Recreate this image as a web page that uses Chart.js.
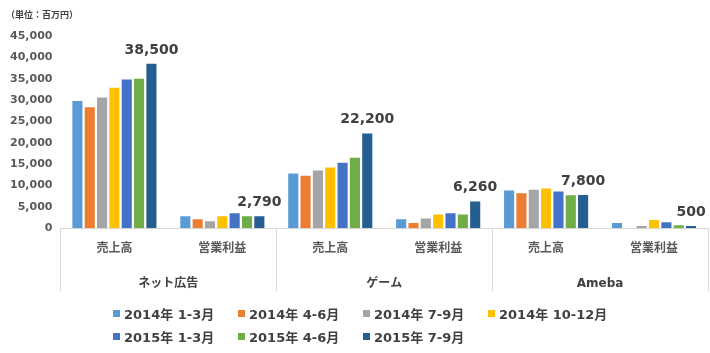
<!DOCTYPE html>
<html>
<head>
<meta charset="utf-8">
<script src="https://cdn.jsdelivr.net/npm/chart.js@4/dist/chart.umd.min.js"></script>
<style>
  html, body { margin: 0; padding: 0; background: #fff; }
  #wrap { position: relative; width: 710px; height: 353px; }
  #unit { position: absolute; left: 6px; top: 8px; font-family: "DejaVu Sans", "Noto Sans CJK JP", sans-serif;
    font-weight: bold; font-size: 9px; color: #404040; white-space: nowrap; }
  #legend { position: absolute; left: 113px; top: 303px; width: 560px;
    font-family: "DejaVu Sans", "Noto Sans CJK JP", sans-serif; font-weight: bold; font-size: 13px; color: #404040; }
  .item { position: absolute; display: flex; align-items: center; white-space: nowrap; height: 20px; }
  .box { width: 7px; height: 7px; margin-right: 4px; }
</style>
</head>
<body>
<div id="wrap">
  <canvas id="c" width="710" height="353"></canvas>
  <div id="unit"></div>
  <div id="legend"></div>
</div>
<script>
const categories = ['売上高', '営業利益', '売上高', '営業利益', '売上高', '営業利益'];
const groups = ['ネット広告', 'ゲーム', 'Ameba'];
const seriesNames = ['2014年 1-3月', '2014年 4-6月', '2014年 7-9月', '2014年 10-12月', '2015年 1-3月', '2015年 4-6月', '2015年 7-9月'];
const s2014q1 = [29800, 2800, 12800, 2100, 8800, 1200];
const s2014q2 = [28300, 2100, 12300, 1200, 8200, null];
const s2014q3 = [30600, 1600, 13500, 2300, 9000, 500];
const s2014q4 = [32900, 2800, 14200, 3200, 9300, 1900];
const s2015q1 = [34800, 3500, 15300, 3500, 8600, 1400];
const s2015q2 = [35000, 2800, 16500, 3200, 7700, 700];
const s2015q3 = [38500, 2790, 22200, 6260, 7800, 500];
const colors = ['#5B9BD5', '#ED7D31', '#A5A5A5', '#FFC000', '#4472C4', '#70AD47', '#255E91'];
const yTicks = [0, 5000, 10000, 15000, 20000, 25000, 30000, 35000, 40000, 45000];
const unitLabel = '（単位：百万円）';

const allSeries = [s2014q1, s2014q2, s2014q3, s2014q4, s2015q1, s2015q2, s2015q3];
const FONT = '"DejaVu Sans", "Noto Sans CJK JP", sans-serif';
document.getElementById('unit').textContent = unitLabel;

const datasets = allSeries.map((d, i) => ({
  label: seriesNames[i],
  data: d,
  backgroundColor: colors[i],
  borderWidth: 0,
  categoryPercentage: 0.8,
  barPercentage: 0.82
}));

const labelPlugin = {
  id: 'lastLabels',
  afterDatasetsDraw(chart) {
    const ctx = chart.ctx;
    const idx = datasets.length - 1;
    const meta = chart.getDatasetMeta(idx);
    ctx.save();
    ctx.font = 'bold 14px ' + FONT;
    ctx.fillStyle = '#404040';
    ctx.textAlign = 'center';
    ctx.textBaseline = 'alphabetic';
    meta.data.forEach((bar, i) => {
      const v = allSeries[idx][i];
      if (v == null) return;
      ctx.fillText(v.toLocaleString('en-US'), bar.x, bar.y - 10);
    });
    ctx.restore();
  }
};

const groupLines = {
  id: 'groupLines',
  afterDraw(chart) {
    const x = chart.scales.x;
    const ctx = chart.ctx;
    ctx.save();
    ctx.strokeStyle = '#D9D9D9';
    ctx.lineWidth = 1;
    const n = groups.length;
    for (let i = 0; i <= n; i++) {
      const px = Math.round(x.left + (x.right - x.left) * i / n) + 0.5;
      ctx.beginPath();
      ctx.moveTo(px, chart.chartArea.bottom);
      ctx.lineTo(px, chart.chartArea.bottom + 63);
      ctx.stroke();
    }
    ctx.restore();
  }
};

new Chart(document.getElementById('c'), {
  type: 'bar',
  data: { labels: categories, datasets },
  plugins: [labelPlugin, groupLines],
  options: {
    responsive: false,
    animation: false,
    layout: { padding: { left: 2, right: 2, top: 36, bottom: 54 } },
    plugins: {
      legend: { display: false },
      tooltip: { enabled: false },
      title: { display: false }
    },
    scales: {
      y: {
        min: 0, max: 45000,
        afterBuildTicks(scale) { scale.ticks = yTicks.map(v => ({ value: v })); },
        grid: { display: false, drawTicks: false, tickLength: 0 },
        border: { display: false },
        ticks: {
          padding: 8,
          color: '#595959',
          font: { family: FONT, size: 11, weight: 'bold' },
          callback: v => Number(v).toLocaleString('en-US')
        }
      },
      x: {
        weight: 0,
        grid: { display: false, drawTicks: false, tickLength: 0 },
        border: { display: true, color: '#D9D9D9' },
        ticks: { padding: 13, color: '#595959', maxRotation: 0, autoSkip: false,
          font: { family: FONT, size: 12, weight: 'bold' } }
      },
      x2: {
        type: 'category',
        position: 'bottom',
        weight: 1,
        labels: groups,
        offset: true,
        grid: { display: false, drawTicks: false, tickLength: 0 },
        border: { display: false },
        ticks: { padding: 8, color: '#404040', maxRotation: 0, autoSkip: false,
          font: { family: FONT, size: 12, weight: 'bold' } }
      }
    }
  }
});

const legend = document.getElementById('legend');
seriesNames.forEach((name, i) => {
  const it = document.createElement('div');
  it.className = 'item';
  it.style.left = ((i % 4) * 125) + 'px';
  it.style.top = (Math.floor(i / 4) * 23) + 'px';
  const b = document.createElement('span');
  b.className = 'box';
  b.style.background = colors[i];
  const t = document.createElement('span');
  t.textContent = name;
  it.appendChild(b); it.appendChild(t);
  legend.appendChild(it);
});
</script>
</body>
</html>
